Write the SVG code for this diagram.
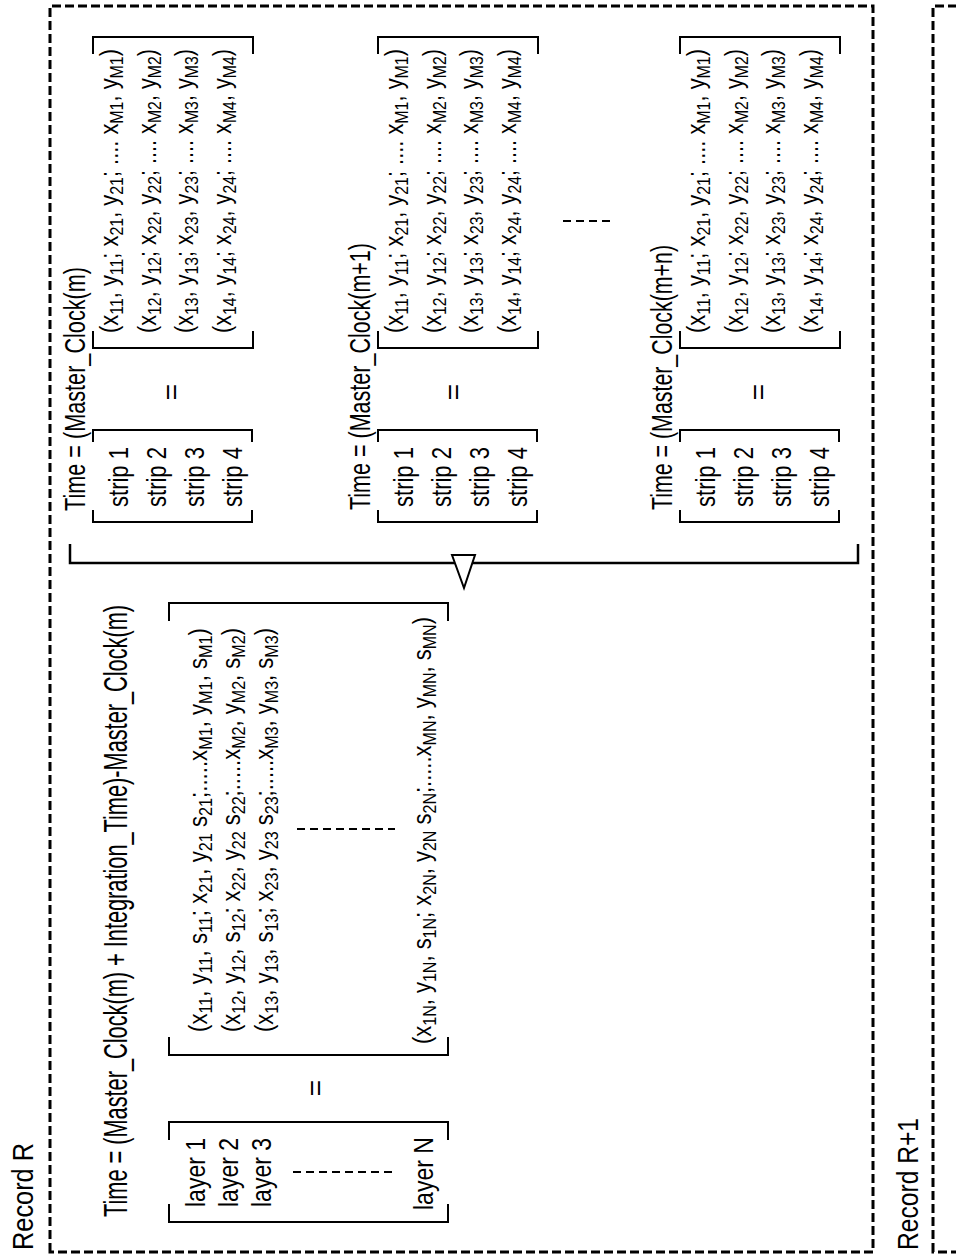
<svg xmlns="http://www.w3.org/2000/svg" width="956" height="1255" viewBox="0 0 956 1255">
<style>
text{font-family:"Liberation Sans",Arial,sans-serif;fill:#000}
.lbl{font-size:29px}
.ttl{font-size:33px}
.hdr{font-size:30px}
.str{font-size:28px}
.row{font-size:26px}
.sb{font-size:19px}
.eq{font-size:28px;text-anchor:middle}
.box{fill:none;stroke:#000;stroke-width:3;stroke-dasharray:9 4}
.br{fill:none;stroke:#000;stroke-width:2}
.dl{fill:none;stroke:#000;stroke-width:2;stroke-dasharray:8 5}
.cn{fill:none;stroke:#000;stroke-width:2.5}
</style>
<rect width="956" height="1255" fill="#fff"/>
<g transform="translate(0,1255) rotate(-90)">
  <g id="record-r">
    <rect class="box" x="3" y="50" width="1246" height="823"/>
    <text class="lbl" x="5" y="33" textLength="107" lengthAdjust="spacingAndGlyphs">Record R</text>
    <text class="ttl" x="38" y="127" textLength="612" lengthAdjust="spacingAndGlyphs">Time = (Master_Clock(m) + Integration_Time)-Master_Clock(m)</text>
  </g>
  <g id="record-r1">
    <rect class="box" x="3" y="933" width="1246" height="100"/>
    <text class="lbl" x="5" y="918" textLength="132" lengthAdjust="spacingAndGlyphs">Record R+1</text>
  </g>
  <g id="layer-matrix">
    <path class="br" d="M51 169H33V448H51M115 169H133V448H115"/>
    <text class="str" x="48" y="205" textLength="69" lengthAdjust="spacingAndGlyphs">layer 1</text>
    <text class="str" x="48" y="238" textLength="69" lengthAdjust="spacingAndGlyphs">layer 2</text>
    <text class="str" x="48" y="271" textLength="69" lengthAdjust="spacingAndGlyphs">layer 3</text>
    <path class="dl" d="M83 293V397"/>
    <text class="str" x="45" y="433" textLength="73" lengthAdjust="spacingAndGlyphs">layer N</text>
  </g>
  <text class="eq" x="167" y="325">=</text>
  <g id="coord-matrix">
    <path class="br" d="M218 169H200V448H218M634 169H652V448H634"/>
    <text class="row" x="223" y="207" textLength="404" lengthAdjust="spacingAndGlyphs">(x<tspan class="sb" dy="5">11</tspan><tspan dy="-5">, y</tspan><tspan class="sb" dy="5">11</tspan><tspan dy="-5">, s</tspan><tspan class="sb" dy="5">11</tspan><tspan dy="-5">; x</tspan><tspan class="sb" dy="5">21</tspan><tspan dy="-5">, y</tspan><tspan class="sb" dy="5">21</tspan><tspan dy="-5"> s</tspan><tspan class="sb" dy="5">21</tspan><tspan dy="-5">;.....x</tspan><tspan class="sb" dy="5">M1</tspan><tspan dy="-5">, y</tspan><tspan class="sb" dy="5">M1</tspan><tspan dy="-5">, s</tspan><tspan class="sb" dy="5">M1</tspan><tspan dy="-5">)</tspan></text>
    <text class="row" x="223" y="240" textLength="404" lengthAdjust="spacingAndGlyphs">(x<tspan class="sb" dy="5">12</tspan><tspan dy="-5">, y</tspan><tspan class="sb" dy="5">12</tspan><tspan dy="-5">, s</tspan><tspan class="sb" dy="5">12</tspan><tspan dy="-5">; x</tspan><tspan class="sb" dy="5">22</tspan><tspan dy="-5">, y</tspan><tspan class="sb" dy="5">22</tspan><tspan dy="-5"> s</tspan><tspan class="sb" dy="5">22</tspan><tspan dy="-5">;.....x</tspan><tspan class="sb" dy="5">M2</tspan><tspan dy="-5">, y</tspan><tspan class="sb" dy="5">M2</tspan><tspan dy="-5">, s</tspan><tspan class="sb" dy="5">M2</tspan><tspan dy="-5">)</tspan></text>
    <text class="row" x="223" y="273" textLength="404" lengthAdjust="spacingAndGlyphs">(x<tspan class="sb" dy="5">13</tspan><tspan dy="-5">, y</tspan><tspan class="sb" dy="5">13</tspan><tspan dy="-5">, s</tspan><tspan class="sb" dy="5">13</tspan><tspan dy="-5">; x</tspan><tspan class="sb" dy="5">23</tspan><tspan dy="-5">, y</tspan><tspan class="sb" dy="5">23</tspan><tspan dy="-5"> s</tspan><tspan class="sb" dy="5">23</tspan><tspan dy="-5">;.....x</tspan><tspan class="sb" dy="5">M3</tspan><tspan dy="-5">, y</tspan><tspan class="sb" dy="5">M3</tspan><tspan dy="-5">, s</tspan><tspan class="sb" dy="5">M3</tspan><tspan dy="-5">)</tspan></text>
    <path class="dl" d="M426 297V395"/>
    <text class="row" x="211" y="431" textLength="427" lengthAdjust="spacingAndGlyphs">(x<tspan class="sb" dy="5">1N</tspan><tspan dy="-5">, y</tspan><tspan class="sb" dy="5">1N</tspan><tspan dy="-5">, s</tspan><tspan class="sb" dy="5">1N</tspan><tspan dy="-5">; x</tspan><tspan class="sb" dy="5">2N</tspan><tspan dy="-5">, y</tspan><tspan class="sb" dy="5">2N</tspan><tspan dy="-5"> s</tspan><tspan class="sb" dy="5">2N</tspan><tspan dy="-5">;.....x</tspan><tspan class="sb" dy="5">MN</tspan><tspan dy="-5">, y</tspan><tspan class="sb" dy="5">MN</tspan><tspan dy="-5">, s</tspan><tspan class="sb" dy="5">MN</tspan><tspan dy="-5">)</tspan></text>
  </g>
  <g id="block-m">
    <text class="hdr" x="744" y="85" textLength="244" lengthAdjust="spacingAndGlyphs">Time = (Master_Clock(m)</text>
    <path class="br" d="M745 93H733V252H745M813 93H825V252H813"/>
    <text class="str" x="748" y="128" textLength="60" lengthAdjust="spacingAndGlyphs">strip 1</text>
    <text class="str" x="748" y="166" textLength="60" lengthAdjust="spacingAndGlyphs">strip 2</text>
    <text class="str" x="748" y="204" textLength="60" lengthAdjust="spacingAndGlyphs">strip 3</text>
    <text class="str" x="748" y="242" textLength="60" lengthAdjust="spacingAndGlyphs">strip 4</text>
    <text class="eq" x="863" y="181">=</text>
    <path class="br" d="M924 93H907V253H924M1201 93H1218V253H1201"/>
    <text class="row" x="922" y="118" textLength="284" lengthAdjust="spacingAndGlyphs">(x<tspan class="sb" dy="5">11</tspan><tspan dy="-5">, y</tspan><tspan class="sb" dy="5">11</tspan><tspan dy="-5">; x</tspan><tspan class="sb" dy="5">21</tspan><tspan dy="-5">, y</tspan><tspan class="sb" dy="5">21</tspan><tspan dy="-5">; .... x</tspan><tspan class="sb" dy="5">M1</tspan><tspan dy="-5">, y</tspan><tspan class="sb" dy="5">M1</tspan><tspan dy="-5">)</tspan></text>
    <text class="row" x="922" y="156" textLength="284" lengthAdjust="spacingAndGlyphs">(x<tspan class="sb" dy="5">12</tspan><tspan dy="-5">, y</tspan><tspan class="sb" dy="5">12</tspan><tspan dy="-5">; x</tspan><tspan class="sb" dy="5">22</tspan><tspan dy="-5">, y</tspan><tspan class="sb" dy="5">22</tspan><tspan dy="-5">; .... x</tspan><tspan class="sb" dy="5">M2</tspan><tspan dy="-5">, y</tspan><tspan class="sb" dy="5">M2</tspan><tspan dy="-5">)</tspan></text>
    <text class="row" x="922" y="193" textLength="284" lengthAdjust="spacingAndGlyphs">(x<tspan class="sb" dy="5">13</tspan><tspan dy="-5">, y</tspan><tspan class="sb" dy="5">13</tspan><tspan dy="-5">; x</tspan><tspan class="sb" dy="5">23</tspan><tspan dy="-5">, y</tspan><tspan class="sb" dy="5">23</tspan><tspan dy="-5">; .... x</tspan><tspan class="sb" dy="5">M3</tspan><tspan dy="-5">, y</tspan><tspan class="sb" dy="5">M3</tspan><tspan dy="-5">)</tspan></text>
    <text class="row" x="922" y="231" textLength="284" lengthAdjust="spacingAndGlyphs">(x<tspan class="sb" dy="5">14</tspan><tspan dy="-5">, y</tspan><tspan class="sb" dy="5">14</tspan><tspan dy="-5">; x</tspan><tspan class="sb" dy="5">24</tspan><tspan dy="-5">, y</tspan><tspan class="sb" dy="5">24</tspan><tspan dy="-5">; .... x</tspan><tspan class="sb" dy="5">M4</tspan><tspan dy="-5">, y</tspan><tspan class="sb" dy="5">M4</tspan><tspan dy="-5">)</tspan></text>
  </g>
  <g id="block-m1" transform="translate(0,285)">
    <text class="hdr" x="745" y="85" textLength="267" lengthAdjust="spacingAndGlyphs">Time = (Master_Clock(m+1)</text>
    <path class="br" d="M745 93H733V252H745M813 93H825V252H813"/>
    <text class="str" x="748" y="128" textLength="60" lengthAdjust="spacingAndGlyphs">strip 1</text>
    <text class="str" x="748" y="166" textLength="60" lengthAdjust="spacingAndGlyphs">strip 2</text>
    <text class="str" x="748" y="204" textLength="60" lengthAdjust="spacingAndGlyphs">strip 3</text>
    <text class="str" x="748" y="242" textLength="60" lengthAdjust="spacingAndGlyphs">strip 4</text>
    <text class="eq" x="863" y="178">=</text>
    <path class="br" d="M924 93H907V253H924M1201 93H1218V253H1201"/>
    <text class="row" x="922" y="118" textLength="284" lengthAdjust="spacingAndGlyphs">(x<tspan class="sb" dy="5">11</tspan><tspan dy="-5">, y</tspan><tspan class="sb" dy="5">11</tspan><tspan dy="-5">; x</tspan><tspan class="sb" dy="5">21</tspan><tspan dy="-5">, y</tspan><tspan class="sb" dy="5">21</tspan><tspan dy="-5">; .... x</tspan><tspan class="sb" dy="5">M1</tspan><tspan dy="-5">, y</tspan><tspan class="sb" dy="5">M1</tspan><tspan dy="-5">)</tspan></text>
    <text class="row" x="922" y="156" textLength="284" lengthAdjust="spacingAndGlyphs">(x<tspan class="sb" dy="5">12</tspan><tspan dy="-5">, y</tspan><tspan class="sb" dy="5">12</tspan><tspan dy="-5">; x</tspan><tspan class="sb" dy="5">22</tspan><tspan dy="-5">, y</tspan><tspan class="sb" dy="5">22</tspan><tspan dy="-5">; .... x</tspan><tspan class="sb" dy="5">M2</tspan><tspan dy="-5">, y</tspan><tspan class="sb" dy="5">M2</tspan><tspan dy="-5">)</tspan></text>
    <text class="row" x="922" y="193" textLength="284" lengthAdjust="spacingAndGlyphs">(x<tspan class="sb" dy="5">13</tspan><tspan dy="-5">, y</tspan><tspan class="sb" dy="5">13</tspan><tspan dy="-5">; x</tspan><tspan class="sb" dy="5">23</tspan><tspan dy="-5">, y</tspan><tspan class="sb" dy="5">23</tspan><tspan dy="-5">; .... x</tspan><tspan class="sb" dy="5">M3</tspan><tspan dy="-5">, y</tspan><tspan class="sb" dy="5">M3</tspan><tspan dy="-5">)</tspan></text>
    <text class="row" x="922" y="231" textLength="284" lengthAdjust="spacingAndGlyphs">(x<tspan class="sb" dy="5">14</tspan><tspan dy="-5">, y</tspan><tspan class="sb" dy="5">14</tspan><tspan dy="-5">; x</tspan><tspan class="sb" dy="5">24</tspan><tspan dy="-5">, y</tspan><tspan class="sb" dy="5">24</tspan><tspan dy="-5">; .... x</tspan><tspan class="sb" dy="5">M4</tspan><tspan dy="-5">, y</tspan><tspan class="sb" dy="5">M4</tspan><tspan dy="-5">)</tspan></text>
  </g>
  <path class="dl" d="M1034 563V610"/>
  <g id="block-mn" transform="translate(0,587)">
    <text class="hdr" x="745" y="85" textLength="265" lengthAdjust="spacingAndGlyphs">Time = (Master_Clock(m+n)</text>
    <path class="br" d="M745 93H733V252H745M813 93H825V252H813"/>
    <text class="str" x="748" y="128" textLength="60" lengthAdjust="spacingAndGlyphs">strip 1</text>
    <text class="str" x="748" y="166" textLength="60" lengthAdjust="spacingAndGlyphs">strip 2</text>
    <text class="str" x="748" y="204" textLength="60" lengthAdjust="spacingAndGlyphs">strip 3</text>
    <text class="str" x="748" y="242" textLength="60" lengthAdjust="spacingAndGlyphs">strip 4</text>
    <text class="eq" x="863" y="181">=</text>
    <path class="br" d="M924 93H907V253H924M1201 93H1218V253H1201"/>
    <text class="row" x="922" y="118" textLength="284" lengthAdjust="spacingAndGlyphs">(x<tspan class="sb" dy="5">11</tspan><tspan dy="-5">, y</tspan><tspan class="sb" dy="5">11</tspan><tspan dy="-5">; x</tspan><tspan class="sb" dy="5">21</tspan><tspan dy="-5">, y</tspan><tspan class="sb" dy="5">21</tspan><tspan dy="-5">; .... x</tspan><tspan class="sb" dy="5">M1</tspan><tspan dy="-5">, y</tspan><tspan class="sb" dy="5">M1</tspan><tspan dy="-5">)</tspan></text>
    <text class="row" x="922" y="156" textLength="284" lengthAdjust="spacingAndGlyphs">(x<tspan class="sb" dy="5">12</tspan><tspan dy="-5">, y</tspan><tspan class="sb" dy="5">12</tspan><tspan dy="-5">; x</tspan><tspan class="sb" dy="5">22</tspan><tspan dy="-5">, y</tspan><tspan class="sb" dy="5">22</tspan><tspan dy="-5">; .... x</tspan><tspan class="sb" dy="5">M2</tspan><tspan dy="-5">, y</tspan><tspan class="sb" dy="5">M2</tspan><tspan dy="-5">)</tspan></text>
    <text class="row" x="922" y="193" textLength="284" lengthAdjust="spacingAndGlyphs">(x<tspan class="sb" dy="5">13</tspan><tspan dy="-5">, y</tspan><tspan class="sb" dy="5">13</tspan><tspan dy="-5">; x</tspan><tspan class="sb" dy="5">23</tspan><tspan dy="-5">, y</tspan><tspan class="sb" dy="5">23</tspan><tspan dy="-5">; .... x</tspan><tspan class="sb" dy="5">M3</tspan><tspan dy="-5">, y</tspan><tspan class="sb" dy="5">M3</tspan><tspan dy="-5">)</tspan></text>
    <text class="row" x="922" y="231" textLength="284" lengthAdjust="spacingAndGlyphs">(x<tspan class="sb" dy="5">14</tspan><tspan dy="-5">, y</tspan><tspan class="sb" dy="5">14</tspan><tspan dy="-5">; x</tspan><tspan class="sb" dy="5">24</tspan><tspan dy="-5">, y</tspan><tspan class="sb" dy="5">24</tspan><tspan dy="-5">; .... x</tspan><tspan class="sb" dy="5">M4</tspan><tspan dy="-5">, y</tspan><tspan class="sb" dy="5">M4</tspan><tspan dy="-5">)</tspan></text>
  </g>
  <g id="connectors">
    <path class="cn" d="M711 70H692V858H711"/>
    <polygon points="700,452 700,475 667,464" fill="#fff" stroke="#000" stroke-width="2"/>
  </g>
</g>
</svg>
